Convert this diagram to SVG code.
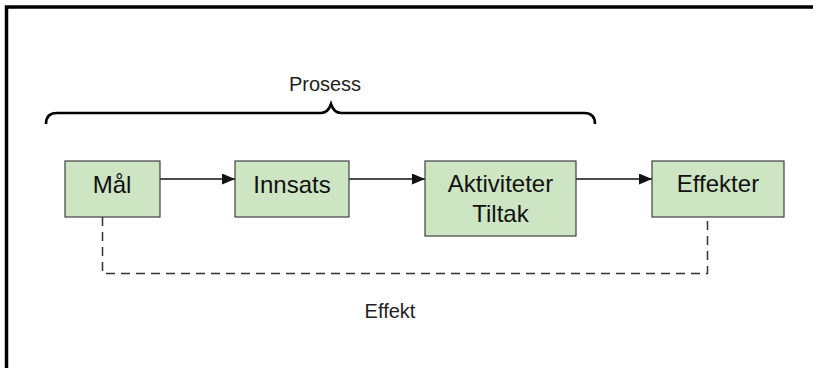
<svg xmlns="http://www.w3.org/2000/svg" width="813" height="368" viewBox="0 0 813 368">
<style>
.box{fill:#cde5c3;stroke:#404040;stroke-width:1.2}
.lbl{font-family:"Liberation Sans",Arial,sans-serif;font-size:24px;fill:#111;text-anchor:middle}
.cap{font-family:"Liberation Sans",Arial,sans-serif;font-size:20px;fill:#222;text-anchor:middle}
.arr{stroke:#111;stroke-width:1.7;fill:none}
.dash{stroke:#333;stroke-width:1.5;fill:none;stroke-dasharray:9,6}
</style>
<defs>
<marker id="ah" markerWidth="13" markerHeight="11" refX="13" refY="5.5" orient="auto" markerUnits="userSpaceOnUse">
<path d="M0,0 L13,5.5 L0,11 Z" fill="#111"/>
</marker>
</defs>
<rect width="813" height="368" fill="#fff"/>
<path d="M6.5,368 L6.5,7 L813,7" fill="none" stroke="#000" stroke-width="3.5"/>
<g id="connectors">
<path class="arr" d="M160,179 L235,179" marker-end="url(#ah)"/>
<path class="arr" d="M349,179 L425,179" marker-end="url(#ah)"/>
<path class="arr" d="M576,179 L652,179" marker-end="url(#ah)"/>
<path class="dash" d="M102.5,217 L102.5,273.5 L707.5,273.5 L707.5,217"/>
</g>
<g id="brace">
<path d="M46,124 Q46,113 57,113 L321,113 Q328,113 331,104 Q334,113 341,113 L584,113 Q595,113 595,124" fill="none" stroke="#000" stroke-width="2.6"/>
<text class="cap" x="325" y="91">Prosess</text>
</g>
<g id="mal">
<rect class="box" x="65" y="161" width="95" height="56"/>
<text class="lbl" x="112" y="193">Mål</text>
</g>
<g id="innsats">
<rect class="box" x="235" y="161" width="114" height="56"/>
<text class="lbl" x="292" y="193">Innsats</text>
</g>
<g id="aktiviteter">
<rect class="box" x="425" y="161" width="151" height="75"/>
<text class="lbl" x="500.5" y="192">Aktiviteter</text>
<text class="lbl" x="500.5" y="221.5">Tiltak</text>
</g>
<g id="effekter">
<rect class="box" x="652" y="161" width="132" height="56"/>
<text class="lbl" x="718" y="192">Effekter</text>
</g>
<g id="effekt-label">
<text class="cap" x="390" y="318">Effekt</text>
</g>
</svg>
